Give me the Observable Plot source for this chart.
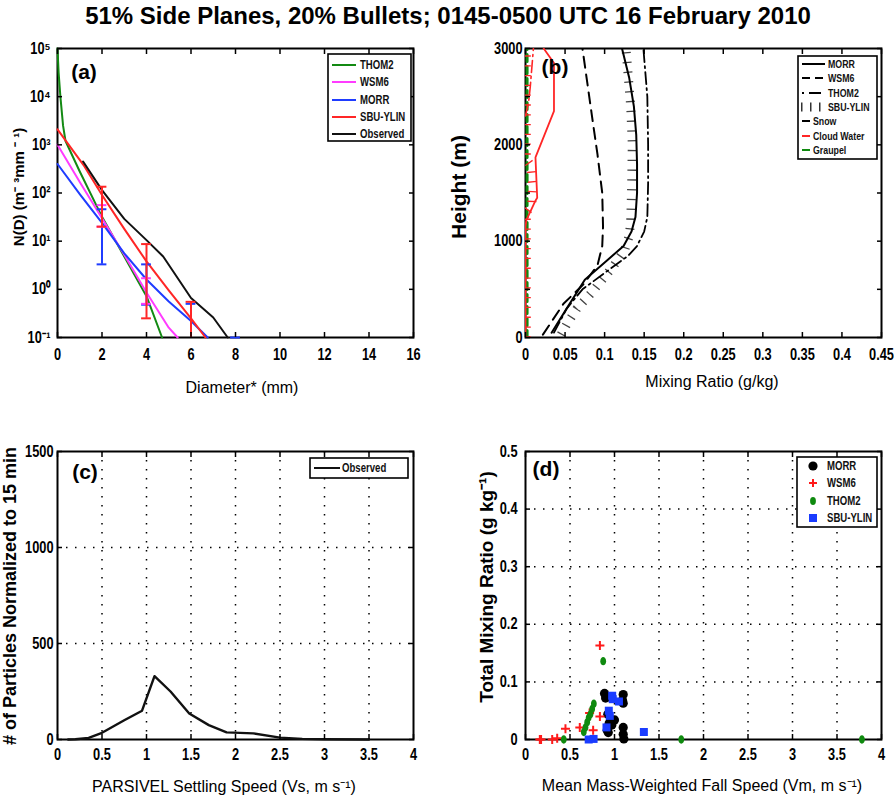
<!DOCTYPE html>
<html><head><meta charset="utf-8">
<script src="https://cdn.jsdelivr.net/npm/d3@7"></script>
<script src="https://cdn.jsdelivr.net/npm/@observablehq/plot@0.6"></script>
<style>
body{margin:0;background:#fff;}
#root{position:relative;width:894px;height:799px;overflow:hidden;background:#fff;font-family:"Liberation Sans",Arial,Helvetica,sans-serif;}
.lbl{position:absolute;white-space:nowrap;color:#000;line-height:1;}
</style></head><body><div id="root"></div>
<script>
// ---------------- DATA ----------------
const titleText = "51% Side Planes, 20% Bullets; 0145-0500 UTC 16 February 2010";

// Panel (a): size distributions N(D)
const aThom2D = [0, 0.05, 0.13, 0.25, 0.36, 1, 2, 3, 4, 4.7];
const aThom2N = [100000, 31600, 10000, 2500, 1200, 280, 32, 4.8, 0.72, 0.1];
const aWsm6D = [0, 1, 2, 3, 4, 5, 5.4];
const aWsm6N = [1000, 170, 30, 5.2, 0.86, 0.16, 0.1];
const aMorrD = [0, 1, 2, 3, 4, 5, 6, 6.75];
const aMorrN = [400, 95, 24, 5.6, 1.6, 0.56, 0.22, 0.1];
const aSbuD = [0, 1.17, 2, 3, 4, 5, 6, 6.65];
const aSbuN = [2100, 380, 91, 18, 3.8, 0.95, 0.25, 0.1];
const aObsD = [1.15, 2, 3, 4, 4.75, 6, 7, 7.65];
const aObsN = [450, 115, 29, 10.5, 4.8, 0.66, 0.26, 0.1];
// error bars
const aErrScheme = ["WSM6", "WSM6", "MORR", "MORR", "MORR", "MORR", "SBU-YLIN", "SBU-YLIN", "SBU-YLIN"];
const aErrD =      [2, 4, 2, 4, 6, 8, 2, 4, 6];
const aErrLo =     [20, 0.5, 3.3, 0.48, 0.1, 0.1, 20, 0.25, 0.1];
const aErrHi =     [56, 1.7, 46, 3.3, 0.5, 0.1, 135, 8.7, 0.55];
const aXTicks = [0, 2, 4, 6, 8, 10, 12, 14, 16];
const aXLabels = ["0", "2", "4", "6", "8", "10", "12", "14", "16"];
const aYTicks = [0.1, 1, 10, 100, 1000, 10000, 100000];
const aYLabels = ["10\u207B\u00B9", "10\u2070", "10\u00B9", "10\u00B2", "10\u00B3", "10\u2074", "10\u2075"];

// Panel (b): mixing ratio profiles (v in g/kg, h in m)
const bMorrH = [50, 300, 600, 800, 950, 1100, 1250, 1500, 1800, 2100, 2400, 2700, 3000];
const bMorrV = [0.033, 0.052, 0.075, 0.103, 0.124, 0.134, 0.139, 0.141, 0.141, 0.140, 0.137, 0.131, 0.122];
const bWsm6H = [30, 350, 550, 750, 950, 1150, 1500, 1900, 2300, 2650, 3000];
const bWsm6V = [0.022, 0.048, 0.073, 0.091, 0.097, 0.098, 0.097, 0.091, 0.084, 0.078, 0.072];
const bThom2H = [50, 300, 500, 700, 850, 950, 1100, 1250, 1600, 2000, 2500, 3000];
const bThom2V = [0.036, 0.052, 0.072, 0.105, 0.13, 0.141, 0.150, 0.154, 0.155, 0.155, 0.154, 0.149];
const bSbuH = [30, 150, 300, 450, 600, 750, 900, 1050, 1200, 1500, 2000, 2400, 2700, 3000];
const bSbuV = [0.045, 0.053, 0.065, 0.082, 0.097, 0.112, 0.125, 0.131, 0.133, 0.134, 0.135, 0.133, 0.130, 0.127];
const bCloudH = [0, 1150, 1215, 1420, 1450, 1870, 2350, 2850, 3000];
const bCloudV = [0, 0, 0.001, 0.0126, 0.0148, 0.0126, 0.036, 0.036, 0.023];
const bCloudThomH = [2300, 2450, 2600, 2800, 3000];
const bCloudThomV = [0, 0.004, 0.006, 0.008, 0.010];
const bCloudSbuH = [0, 1300, 1380, 1600, 1780, 1850, 3000];
const bCloudSbuV = [0.001, 0.001, 0.008, 0.009, 0.007, 0.001, 0.001];
const bGraupelH = [0, 3000];
const bGraupelV = [0.002, 0.002];
const bXTicks = [0, 0.05, 0.1, 0.15, 0.2, 0.25, 0.3, 0.35, 0.4, 0.45];
const bXLabels = ["0", "0.05", "0.1", "0.15", "0.2", "0.25", "0.3", "0.35", "0.4", "0.45"];
const bYTicks = [0, 500, 1000, 1500, 2000, 2500, 3000];
const bYLabels = ["0", "", "1000", "", "2000", "", "3000"];

// Panel (c): PARSIVEL settling speed histogram
const cSpeed = [0.12, 0.2, 0.35, 0.5, 0.75, 0.95, 1.09, 1.27, 1.48, 1.7, 1.9, 2.2, 2.5, 2.75, 3.0, 3.5];
const cCount = [0, 1, 8, 35, 100, 150, 330, 250, 135, 75, 37, 32, 10, 3, 1, 0];
const cXTicks = [0, 0.5, 1, 1.5, 2, 2.5, 3, 3.5, 4];
const cXLabels = ["0", "0.5", "1", "1.5", "2", "2.5", "3", "3.5", "4"];
const cYTicks = [0, 500, 1000, 1500];
const cYLabels = ["0", "500", "1000", "1500"];

// Panel (d): fall speed vs total mixing ratio
const dMorrV = [0.888, 0.90, 0.925, 0.955, 1.0, 0.918, 0.93, 1.098, 1.09, 1.098, 1.098, 1.098, 1.105, 0.97, 0.94];
const dMorrR = [0.080, 0.072, 0.044, 0.034, 0.034, 0.016, 0.012, 0.078, 0.068, 0.063, 0.021, 0.009, 0.001, 0.025, 0.028];
const dWsm6V = [0.161, 0.175, 0.30, 0.356, 0.449, 0.61, 0.72, 0.76, 0.836, 0.836];
const dWsm6R = [0, 0, 0, 0.002, 0.0185, 0.021, 0.046, 0.016, 0.040, 0.163];
const dThom2V = [0.43, 0.655, 0.674, 0.693, 0.71, 0.73, 0.749, 0.768, 0.873, 1.75, 3.78];
const dThom2R = [0, 0.013, 0.021, 0.030, 0.038, 0.044, 0.053, 0.062, 0.136, 0, 0];
const dSbuV = [0.974, 0.98, 1.05, 0.936, 0.947, 0.91, 0.71, 0.765, 1.33];
const dSbuR = [0.076, 0.070, 0.066, 0.050, 0.041, 0.021, 0.0, 0.001, 0.013];
const dXTicks = [0, 0.5, 1, 1.5, 2, 2.5, 3, 3.5, 4];
const dXLabels = ["0", "0.5", "1", "1.5", "2", "2.5", "3", "3.5", "4"];
const dYTicks = [0, 0.1, 0.2, 0.3, 0.4, 0.5];
const dYLabels = ["0", "0.1", "0.2", "0.3", "0.4", "0.5"];

// ---------------- STYLE ----------------
const C = {thom2: "#138a13", wsm6: "#ff3cff", morr: "#1f3cff", sbu: "#ff2626", obs: "#111111"};
const SANS = '"Liberation Sans",Arial,Helvetica,sans-serif';
const dashWsm6 = "11 7";
const dashThom2 = "12 4 2 4";
const hatch = {strokeWidth: 9, strokeDasharray: "1.3 8.5", strokeLinecap: "butt"};

const zip = (xs, ys, kx, ky) => xs.map((v, i) => ({[kx]: v, [ky]: ys[i]}));
const root = document.getElementById("root");

function makePlot(o) {
  return Plot.plot({
    width: o.w, height: o.h, marginLeft: o.ml, marginRight: o.mr, marginTop: o.mt, marginBottom: o.mb,
    x: o.x, y: o.y,
    style: {fontFamily: SANS, fontSize: "16px", fontWeight: "bold", color: "black", background: "transparent", overflow: "visible"},
    marks: [
      Plot.frame({stroke: "black", strokeWidth: 2}),
      ...o.marks,
      Plot.axisX({anchor: "bottom", ticks: o.xt, tickSize: -5, tickPadding: o.xpad, tickFormat: d => o.xl[o.xt.indexOf(d)], label: null, strokeWidth: 1.5}),
      Plot.axisX({anchor: "top", ticks: o.xt, tickSize: -5, tickFormat: () => "", label: null, strokeWidth: 1.5}),
      Plot.axisY({anchor: "left", ticks: o.yt, tickSize: -5, tickPadding: o.ypad, tickFormat: d => o.yl[o.yt.indexOf(d)], label: null, strokeWidth: 1.5}),
      Plot.axisY({anchor: "right", ticks: o.yt, tickSize: -5, tickFormat: () => "", label: null, strokeWidth: 1.5})
    ]
  });
}
function place(node, left, top) {
  node.style.position = "absolute"; node.style.left = left + "px"; node.style.top = top + "px";
  root.appendChild(node);
}
function label(text, x, y, {size = 15, weight = "normal", rotate = 0, family = SANS} = {}) {
  const d = document.createElement("div");
  d.className = "lbl";
  d.textContent = text;
  d.style.left = x + "px"; d.style.top = y + "px";
  d.style.fontSize = size + "px"; d.style.fontWeight = weight; d.style.fontFamily = family;
  d.style.transform = `translate(-50%,-50%) rotate(${rotate}deg)`;
  root.appendChild(d);
}
const NS = "http://www.w3.org/2000/svg";
function el(tag, attrs, parent) {
  const e = document.createElementNS(NS, tag);
  for (const k in attrs) e.setAttribute(k, attrs[k]);
  if (parent) parent.appendChild(e);
  return e;
}
function legendBox(left, top, w, h, items, fontSize) {
  const svg = el("svg", {width: w + 2, height: h + 2});
  el("rect", {x: 1, y: 1, width: w - 1, height: h - 1, fill: "white", stroke: "black", "stroke-width": 1.6}, svg);
  for (const it of items) {
    it.draw(svg, it.y);
    const t = el("text", {x: it.tx, y: it.y, "text-anchor": "start", "dominant-baseline": "central", "font-family": SANS, "font-size": fontSize, "font-weight": "bold", fill: "#111"}, svg);
    t.textContent = it.label;
  }
  place(svg, left, top);
}
const sampleLine = (x1, x2, color, extra = {}) => (svg, y) => el("line", Object.assign({x1, x2, y1: y, y2: y, stroke: color, "stroke-width": 2}, extra), svg);

// ---------------- TITLE ----------------
label(titleText, 448, 16, {size: 24, weight: "bold"});

// ---------------- PANEL (a) ----------------
const aErr = aErrD.map((d, i) => ({scheme: aErrScheme[i], d, lo: aErrLo[i], hi: aErrHi[i]}));
const errColor = {"WSM6": C.wsm6, "MORR": C.morr, "SBU-YLIN": C.sbu};
const errMarks = ["MORR", "WSM6", "SBU-YLIN"].flatMap(s => {
  const data = aErr.filter(e => e.scheme === s);
  const col = errColor[s];
  return [
    Plot.ruleX(data, {x: "d", y1: "lo", y2: "hi", stroke: col, strokeWidth: 2}),
    Plot.ruleY(data, {y: "hi", x1: e => e.d - 0.22, x2: e => e.d + 0.22, stroke: col, strokeWidth: 2}),
    Plot.ruleY(data.filter(e => e.lo > 0.1), {y: "lo", x1: e => e.d - 0.22, x2: e => e.d + 0.22, stroke: col, strokeWidth: 2})
  ];
});
const plotA = makePlot({
  w: 440, h: 340, ml: 57, mr: 27, mt: 18, mb: 33,
  x: {domain: [0, 16]}, y: {type: "log", domain: [0.1, 100000]},
  xt: aXTicks, xl: aXLabels, yt: aYTicks, yl: aYLabels, xpad: 16, ypad: 12,
  marks: [
    Plot.line(zip(aThom2D, aThom2N, "d", "n"), {x: "d", y: "n", stroke: C.thom2, strokeWidth: 2}),
    Plot.line(zip(aWsm6D, aWsm6N, "d", "n"), {x: "d", y: "n", stroke: C.wsm6, strokeWidth: 2}),
    Plot.line(zip(aMorrD, aMorrN, "d", "n"), {x: "d", y: "n", stroke: C.morr, strokeWidth: 2}),
    Plot.line(zip(aSbuD, aSbuN, "d", "n"), {x: "d", y: "n", stroke: C.sbu, strokeWidth: 2}),
    Plot.line(zip(aObsD, aObsN, "d", "n"), {x: "d", y: "n", stroke: C.obs, strokeWidth: 2}),
    ...errMarks
  ]
});
place(plotA, 0, 30);
legendBox(327, 53, 84, 88, [
  {label: "THOM2", y: 12, tx: 33, draw: sampleLine(5, 29, C.thom2)},
  {label: "WSM6", y: 29, tx: 33, draw: sampleLine(5, 29, C.wsm6)},
  {label: "MORR", y: 47, tx: 33, draw: sampleLine(5, 29, C.morr)},
  {label: "SBU-YLIN", y: 64, tx: 33, draw: sampleLine(5, 29, C.sbu)},
  {label: "Observed", y: 81, tx: 33, draw: sampleLine(5, 29, C.obs)}
], 12);
label("(a)", 84, 71, {size: 21, weight: "bold"});
label("Diameter* (mm)", 242, 388, {size: 16});
label("N(D) (m\u207B \u00B3mm \u207B \u00B9)", 18, 187, {size: 15, weight: "bold", rotate: -90});

// ---------------- PANEL (b) ----------------
const plotB = makePlot({
  w: 454, h: 340, ml: 85, mr: 13, mt: 18, mb: 33,
  x: {domain: [0, 0.45]}, y: {domain: [0, 3000]},
  xt: bXTicks, xl: bXLabels, yt: bYTicks, yl: bYLabels, xpad: 16, ypad: 8,
  marks: [
    Plot.line(zip(bGraupelV, bGraupelH, "v", "h"), {x: "v", y: "h", stroke: "#0f8a0f", strokeWidth: 3, strokeDasharray: "7 5", clip: true}),
    Plot.line(zip(bCloudSbuV, bCloudSbuH, "v", "h"), {x: "v", y: "h", stroke: C.sbu, ...hatch, clip: true}),
    Plot.line(zip(bCloudThomV, bCloudThomH, "v", "h"), {x: "v", y: "h", stroke: C.sbu, strokeWidth: 1.6, strokeDasharray: dashThom2, clip: true}),
    Plot.line(zip(bCloudV, bCloudH, "v", "h"), {x: "v", y: "h", stroke: C.sbu, strokeWidth: 1.8, clip: true}),
    Plot.line(zip(bSbuV, bSbuH, "v", "h"), {x: "v", y: "h", stroke: "#444", ...hatch, clip: true}),
    Plot.line(zip(bThom2V, bThom2H, "v", "h"), {x: "v", y: "h", stroke: "black", strokeWidth: 1.8, strokeDasharray: dashThom2, clip: true}),
    Plot.line(zip(bWsm6V, bWsm6H, "v", "h"), {x: "v", y: "h", stroke: "black", strokeWidth: 2, strokeDasharray: dashWsm6, clip: true}),
    Plot.line(zip(bMorrV, bMorrH, "v", "h"), {x: "v", y: "h", stroke: "black", strokeWidth: 2, clip: true})
  ]
});
place(plotB, 440, 30);
legendBox(797, 55, 80, 104, [
  {label: "MORR", y: 9, tx: 31, draw: sampleLine(5, 28, "black")},
  {label: "WSM6", y: 23, tx: 31, draw: sampleLine(5, 28, "black", {"stroke-dasharray": "8 5"})},
  {label: "THOM2", y: 38, tx: 31, draw: sampleLine(5, 28, "black", {"stroke-dasharray": "2 5 12 5"})},
  {label: "SBU-YLIN", y: 52, tx: 31, draw: sampleLine(4, 28, "#333", {"stroke-width": 9, "stroke-dasharray": "1.5 7.5"})},
  {label: "Snow", y: 66, tx: 16, draw: sampleLine(5, 13, "black")},
  {label: "Cloud Water", y: 81, tx: 16, draw: sampleLine(5, 13, C.sbu)},
  {label: "Graupel", y: 95, tx: 16, draw: sampleLine(5, 13, "#0f8a0f")}
], 11);
label("(b)", 555, 66, {size: 21, weight: "bold"});
label("Mixing Ratio (g/kg)", 712, 382, {size: 16});
label("Height (m)", 458, 187, {size: 21, weight: "bold", rotate: -90});

// ---------------- PANEL (c) ----------------
const gridStyle = {stroke: "black", strokeOpacity: 1, strokeWidth: 1.5, strokeDasharray: "1.5 7.5"};
const plotC = makePlot({
  w: 440, h: 340, ml: 57, mr: 27, mt: 21, mb: 31,
  x: {domain: [0, 4]}, y: {domain: [0, 1500]},
  xt: cXTicks, xl: cXLabels, yt: cYTicks, yl: cYLabels, xpad: 14, ypad: 9,
  marks: [
    Plot.gridX({ticks: cXTicks.slice(1, -1), ...gridStyle}),
    Plot.gridY({ticks: cYTicks.slice(1, -1), ...gridStyle}),
    Plot.line(zip(cSpeed, cCount, "s", "n"), {x: "s", y: "n", stroke: "#111", strokeWidth: 2.4})
  ]
});
place(plotC, 0, 430);
legendBox(309, 457, 99, 21, [
  {label: "Observed", y: 11, tx: 33, draw: sampleLine(5, 31, "#111")}
], 12);
label("(c)", 85, 471, {size: 21, weight: "bold"});
label("PARSIVEL Settling Speed (Vs, m s\u207B\u00B9)", 224, 787, {size: 16});
label("# of Particles Normalized to 15 min", 10, 596, {size: 18, weight: "bold", rotate: -90});

// ---------------- PANEL (d) ----------------
const plusSym = {draw(c) { c.moveTo(-4.5, 0); c.lineTo(4.5, 0); c.moveTo(0, -4.5); c.lineTo(0, 4.5); }};
const ellSym = {draw(c) {
  const rx = 2.9, ry = 4.2, k = 0.5523;
  c.moveTo(0, -ry);
  c.bezierCurveTo(k * rx, -ry, rx, -k * ry, rx, 0);
  c.bezierCurveTo(rx, k * ry, k * rx, ry, 0, ry);
  c.bezierCurveTo(-k * rx, ry, -rx, k * ry, -rx, 0);
  c.bezierCurveTo(-rx, -k * ry, -k * rx, -ry, 0, -ry);
  c.closePath();
}};
const sqSym = {draw(c) { c.rect(-4, -4, 8, 8); }};
const plotD = makePlot({
  w: 454, h: 340, ml: 85, mr: 13, mt: 21, mb: 31,
  x: {domain: [0, 4]}, y: {domain: [0, 0.5]},
  xt: dXTicks, xl: dXLabels, yt: dYTicks, yl: dYLabels, xpad: 14, ypad: 13,
  marks: [
    Plot.gridX({ticks: dXTicks.slice(1, -1), ...gridStyle}),
    Plot.gridY({ticks: dYTicks.slice(1, -1), ...gridStyle}),
    Plot.dot(zip(dMorrV, dMorrR, "v", "r"), {x: "v", y: "r", r: 4.6, fill: "black", stroke: "none"}),
    Plot.dot(zip(dWsm6V, dWsm6R, "v", "r"), {x: "v", y: "r", symbol: plusSym, stroke: "#ff1a1a", fill: "none", strokeWidth: 2}),
    Plot.dot(zip(dThom2V, dThom2R, "v", "r"), {x: "v", y: "r", symbol: ellSym, fill: "#0f8a0f", stroke: "none"}),
    Plot.dot(zip(dSbuV, dSbuR, "v", "r"), {x: "v", y: "r", symbol: sqSym, fill: "#1a3cff", stroke: "none"})
  ]
});
place(plotD, 440, 430);
const legendMarker = (sym, fill, stroke) => (svg, y) => {
  const g = el("g", {transform: `translate(17,${y})`}, svg);
  el("path", {d: sym, fill, stroke: stroke || "none", "stroke-width": 2}, g);
};
legendBox(796, 456, 81, 71, [
  {label: "MORR", y: 10, tx: 31, draw: legendMarker("M-4.6,0A4.6,4.6,0,1,1,4.6,0A4.6,4.6,0,1,1,-4.6,0Z", "black")},
  {label: "WSM6", y: 27, tx: 31, draw: legendMarker("M-4,0L4,0M0,-4L0,4", "none", "#ff1a1a")},
  {label: "THOM2", y: 45, tx: 31, draw: legendMarker("M0,-4A2.9,4,0,1,1,0,4A2.9,4,0,1,1,0,-4Z", "#0f8a0f")},
  {label: "SBU-YLIN", y: 62, tx: 31, draw: legendMarker("M-4,-4H4V4H-4Z", "#1a3cff")}
], 12);
label("(d)", 546, 468, {size: 21, weight: "bold"});
label("Mean Mass-Weighted Fall Speed (Vm, m s\u207B\u00B9)", 702, 786, {size: 16});
label("Total Mixing Ratio (g kg\u207B\u00B9)", 486, 587, {size: 19, weight: "bold", rotate: -90});

// ---------------- condensed (narrow) lettering: squeeze each SVG text horizontally about its anchor ----------------
const SQUEEZE = 0.8;
root.querySelectorAll("svg text").forEach(t => {
  if (!t.textContent) return;
  const bb = t.getBBox();
  const anchor = getComputedStyle(t).textAnchor;
  const lx = anchor === "middle" ? bb.x + bb.width / 2 : anchor === "end" ? bb.x + bb.width : bb.x;
  const ly = bb.y + bb.height / 2;
  let px = lx;
  const tl = t.transform && t.transform.baseVal;
  if (tl && tl.numberOfItems) {
    const M = tl.consolidate().matrix;
    px = M.a * lx + M.c * ly + M.e;
  }
  const g = document.createElementNS(NS, "g");
  g.setAttribute("transform", `translate(${px},0) scale(${SQUEEZE},1) translate(${-px},0)`);
  t.parentNode.insertBefore(g, t);
  g.appendChild(t);
});
</script></body></html>
